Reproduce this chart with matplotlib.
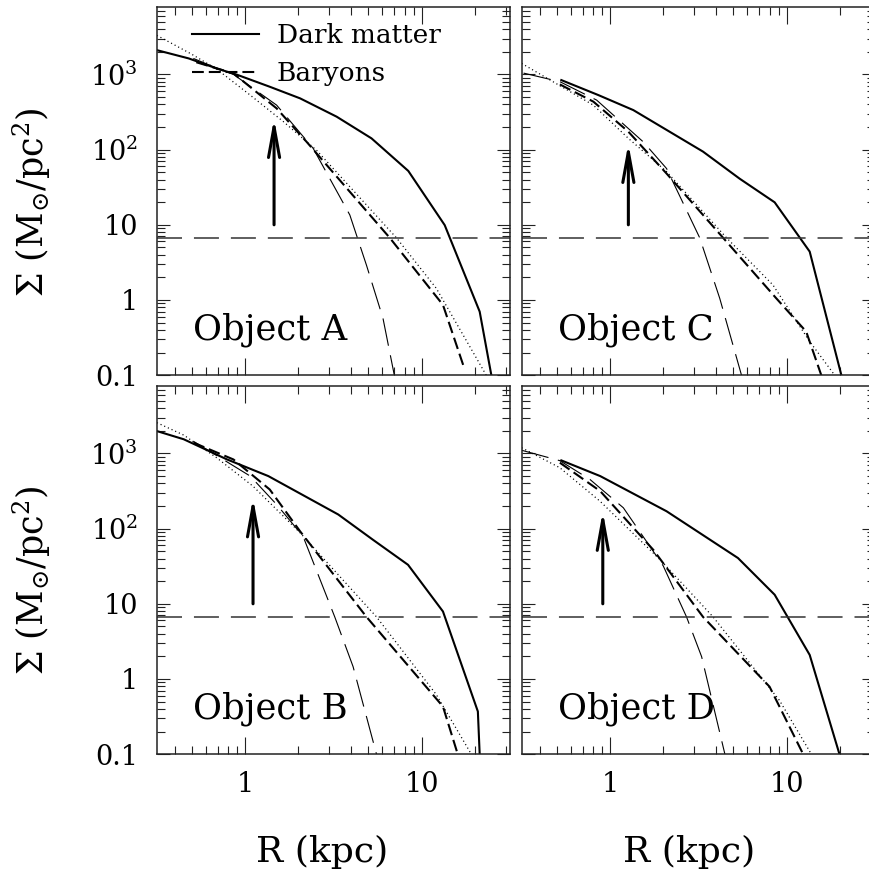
import numpy as np
import matplotlib
matplotlib.use("Agg")
import matplotlib.pyplot as plt
from matplotlib.ticker import LogLocator, NullFormatter, FixedLocator

plt.rcParams['font.family'] = ['DejaVu Serif']
plt.rcParams['mathtext.fontset'] = 'dejavuserif'
plt.rcParams['lines.scale_dashes'] = False

# surface density profiles (R in kpc, Sigma in Msun/pc^2)
# solid = dark matter, short dash = baryons, long dash = exponential, dotted = fit

# Object A
dm_r_A = [0.317, 0.48, 0.69, 0.9, 1.38, 2.05, 3.3, 5.2, 8.4, 13.5, 21.3, 24.8]
dm_s_A = [2100, 1630, 1200, 990, 685, 480, 274, 141, 52, 9.9, 0.70, 0.1]
bar_r_A = [0.53, 0.71, 0.86, 1.51, 2.23, 4.0, 6.6, 13.2, 17.5]
bar_s_A = [1450, 1180, 1030, 353, 127, 26, 6.7, 0.86, 0.12]
exp_r_A = [0.51, 0.71, 0.86, 1.51, 2.43, 3.92, 4.87, 6.04, 7.0]
exp_s_A = [1630, 1180, 1000, 390, 104, 13.5, 2.9, 0.57, 0.1]
fit_r_A = [0.317, 0.5, 0.69, 1.07, 1.65, 2.54, 7.2, 12.1, 23.2]
fit_s_A = [3300, 1850, 1180, 530, 235, 98, 6.7, 1.43, 0.1]

# Object B
dm_r_B = [0.317, 0.45, 0.79, 1.355, 3.37, 5.3, 8.37, 13.2, 20.8, 21.3]
dm_s_B = [1980, 1540, 832, 499, 154, 71, 33, 7.9, 0.37, 0.1]
bar_r_B = [0.51, 0.86, 1.38, 2.05, 4.87, 13.2, 16.0]
bar_s_B = [1390, 830, 331, 92, 6.7, 0.43, 0.1]
exp_r_B = [0.51, 1.07, 1.51, 2.13, 3.22, 4.09, 5.55]
exp_s_B = [1450, 499, 209, 79, 6.7, 1.46, 0.1]
fit_r_B = [0.317, 0.45, 0.69, 1.11, 2.05, 5.55, 12.1, 19.1]
fit_s_B = [2560, 1750, 877, 366, 88, 6.7, 0.62, 0.1]

# Object C
dm_r_C = [0.53, 0.86, 1.355, 3.36, 5.42, 8.55, 13.5, 20.4]
dm_s_C = [840, 530, 335, 94, 41, 19.9, 4.4, 0.1]
bar_r_C = [0.52, 0.805, 1.27, 2.09, 4.37, 8.74, 12.9, 15.7]
bar_s_C = [736, 434, 173, 48, 6.7, 1.05, 0.38, 0.1]
exp_r_C = [0.324, 0.52, 0.84, 1.54, 2.09, 3.22, 4.18, 5.55]
exp_s_C = [1040, 800, 455, 127, 56, 6.7, 1.05, 0.1]
fit_r_C = [0.316, 0.52, 0.805, 1.27, 2.09, 4.57, 8.37, 13.5, 18.7]
fit_s_C = [1400, 707, 390, 141, 51, 6.7, 1.58, 0.28, 0.1]

# Object D
dm_r_D = [0.53, 0.88, 2.09, 5.3, 8.55, 13.5, 19.9]
dm_s_D = [807, 499, 170, 40.6, 13.2, 2.09, 0.1]
bar_r_D = [0.52, 0.88, 1.76, 3.36, 8.0, 12.4]
bar_s_D = [752, 315, 52, 6.7, 0.79, 0.1]
exp_r_D = [0.316, 0.52, 0.77, 1.19, 2.0, 2.71, 3.3, 4.47]
exp_s_D = [1100, 800, 450, 189, 32, 6.7, 1.98, 0.1]
fit_r_D = [0.316, 0.52, 0.88, 1.92, 3.83, 9.1, 13.8]
fit_s_D = [1190, 644, 230, 38.6, 6.7, 0.52, 0.1]

# arrows (radius, tip) start at Sigma = 10
arrow_r = {"A": 1.46, "B": 1.11, "C": 1.27, "D": 0.91}
arrow_tip = {"A": 260, "B": 257, "C": 121, "D": 170}
arrow_base = 10
threshold = 6.6

ytick_vals = [0.1, 1, 10, 100, 1000]
ytick_labels = ["0.1", "1", "10", r"$10^2$", r"$10^3$"]
xtick_vals = [1, 10]
xtick_labels = ["1", "10"]

panels = {
    "A": (dm_r_A, dm_s_A, bar_r_A, bar_s_A, exp_r_A, exp_s_A, fit_r_A, fit_s_A),
    "B": (dm_r_B, dm_s_B, bar_r_B, bar_s_B, exp_r_B, exp_s_B, fit_r_B, fit_s_B),
    "C": (dm_r_C, dm_s_C, bar_r_C, bar_s_C, exp_r_C, exp_s_C, fit_r_C, fit_s_C),
    "D": (dm_r_D, dm_s_D, bar_r_D, bar_s_D, exp_r_D, exp_s_D, fit_r_D, fit_s_D),
}

fig = plt.figure(figsize=(8.7, 8.69), dpi=100)
W, H = 870.0, 869.0
col_left = {"A": 156.7, "B": 156.7, "C": 521.7, "D": 521.7}
row_top = {"A": 6.7, "C": 6.7, "B": 385.7, "D": 385.7}
ax_w, ax_h = 353.3, 368.5

for name in ["A", "C", "B", "D"]:
    dm_r, dm_s, bar_r, bar_s, exp_r, exp_s, fit_r, fit_s = panels[name]
    x0 = col_left[name] / W
    y0 = 1 - (row_top[name] + ax_h) / H
    ax = fig.add_axes([x0, y0, ax_w / W, ax_h / H])
    ax.set_xscale("log")
    ax.set_yscale("log")
    ax.set_xlim(10 ** -0.5, 10 ** 1.5)
    ax.set_ylim(0.1, 10 ** 3.9)

    ln_dm, = ax.plot(dm_r, dm_s, color="black", lw=1.5)
    ln_bar, = ax.plot(bar_r, bar_s, color="black", lw=1.5, dashes=(8.5, 3.6))
    ax.plot(exp_r, exp_s, color="black", lw=0.8, dashes=(20, 7))
    ax.plot(fit_r, fit_s, color="black", lw=0.9, dashes=(0.8, 2.1))
    ax.axhline(threshold, color="#333333", lw=1.1, dashes=(18, 8.6))

    ax.annotate("", xy=(arrow_r[name], arrow_tip[name]),
                xytext=(arrow_r[name], arrow_base),
                arrowprops=dict(arrowstyle="->,head_length=1.1,head_width=0.2",
                                lw=2.2, color="black", mutation_scale=20,
                                shrinkA=0, shrinkB=0))

    ax.text(0.104, 0.097, "Object " + name, transform=ax.transAxes,
            fontsize=25.5, va="baseline", ha="left")

    ax.tick_params(which="both", direction="in", top=True, right=True,
                   width=0.8, color="#222222")
    ax.tick_params(axis="x", which="major", length=12)
    ax.tick_params(axis="y", which="major", length=9.5)
    ax.tick_params(which="minor", length=6)
    ax.xaxis.set_minor_locator(LogLocator(base=10, subs=np.arange(2, 10)))
    ax.yaxis.set_minor_locator(LogLocator(base=10, subs=np.arange(2, 10), numticks=20))
    ax.xaxis.set_minor_formatter(NullFormatter())
    ax.yaxis.set_minor_formatter(NullFormatter())
    ax.xaxis.set_major_locator(FixedLocator(xtick_vals))
    ax.yaxis.set_major_locator(FixedLocator(ytick_vals))
    for sp in ax.spines.values():
        sp.set_linewidth(1.1)
        sp.set_color("#222222")

    if name in ("A", "B"):
        ax.set_yticklabels(ytick_labels, fontsize=19.5)
        ax.tick_params(axis="y", pad=13.5)
    else:
        ax.set_yticklabels([])
    if name in ("B", "D"):
        ax.set_xticklabels(xtick_labels, fontsize=19.5)
        ax.tick_params(axis="x", pad=12)
    else:
        ax.set_xticklabels([])

    if name == "A":
        ax.legend([ln_dm, ln_bar], ["Dark matter", "Baryons"], loc="upper left",
                  bbox_to_anchor=(0.099, 0.955), frameon=False, fontsize=19,
                  handlelength=2.55, handletextpad=0.68, labelspacing=0.5,
                  borderpad=0, borderaxespad=0)

# axis titles
ylab = r"$\Sigma\ (\mathrm{M}_{\odot}/\mathrm{pc}^2)$"
fig.text(32 / W, 1 - 202 / H, ylab, rotation=90, fontsize=25, ha="center", va="center")
fig.text(32 / W, 1 - 580 / H, ylab, rotation=90, fontsize=25, ha="center", va="center")
fig.text(322 / W, 1 - 861.7 / H, "R (kpc)", fontsize=26, ha="center", va="baseline")
fig.text(689 / W, 1 - 861.7 / H, "R (kpc)", fontsize=26, ha="center", va="baseline")

fig.savefig("out.png", dpi=100)
